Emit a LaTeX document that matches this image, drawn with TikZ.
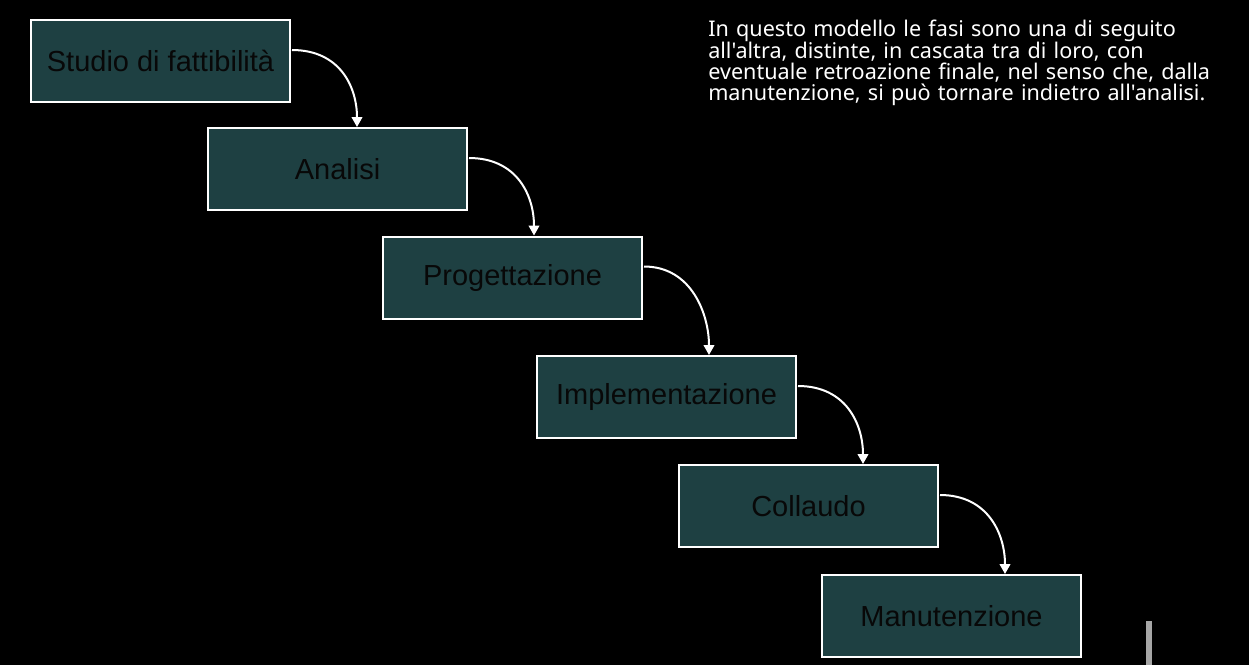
\documentclass[tikz,border=0pt]{standalone}
\usepackage{fontspec}
\setmainfont{Liberation Sans}
\newfontfamily\notofont{Noto Sans}
\usetikzlibrary{arrows.meta,calc}
\definecolor{boxfill}{RGB}{30,64,66}
\definecolor{boxtext}{RGB}{8,8,8}
\definecolor{barcol}{RGB}{166,166,166}
\newcommand\mytightlines{\lineskiplimit=-100pt\relax\lineskip=0pt\relax}
\begin{document}
\begin{tikzpicture}[x=0.75pt,y=-0.75pt,
  phase/.style={draw=white,line width=1.5pt,fill=boxfill,minimum width=259*0.75pt,minimum height=82*0.75pt,inner sep=0pt,font=\fontsize{21.75}{24}\selectfont,text=boxtext},
  flow/.style={draw=white,line width=1.5pt,-{Triangle[width=8pt,length=7.5pt]}}]
\fill[black] (0,0) rectangle (1249,665);
\useasboundingbox (0,0) rectangle (1249,665);
\node[phase] (s1) at (160.5,61) {Studio di fattibilità};
\node[phase] (s2) at (337.5,169) {Analisi};
\node[phase] (s3) at (512.5,277.5) {Progettazione};
\node[phase] (s4) at (666.5,397) {Implementazione};
\node[phase] (s5) at (808.5,506) {Collaudo};
\node[phase] (s6) at (951.5,616) {Manutenzione};
\foreach \a/\b in {s1/s2,s2/s3,s3/s4,s4/s5,s5/s6}{
  \coordinate (st) at ($(\a.north east)+(1,31)$);
  \coordinate (en) at ($(\a.north east)+(66,0)$);
  \coordinate (en) at (en |- \b.north);
  \draw[flow] (st) .. controls ($(st)+(48,0)$) and ($(en)+(0,-40)$) .. (en);
}
\node[anchor=base west,align=left,text width=520*0.75pt,text=white,inner sep=0pt,font=\notofont\fontsize{16.2}{16}\selectfont] (desc) at (708,36.7)
 {\mytightlines In questo modello le fasi sono una di seguito\\all'altra, distinte, in cascata tra di loro, con\\eventuale retroazione finale, nel senso che, dalla\\manutenzione, si può tornare indietro all'analisi.};
\fill[barcol] (1146,621) rectangle (1152,665);
\end{tikzpicture}
\end{document}
